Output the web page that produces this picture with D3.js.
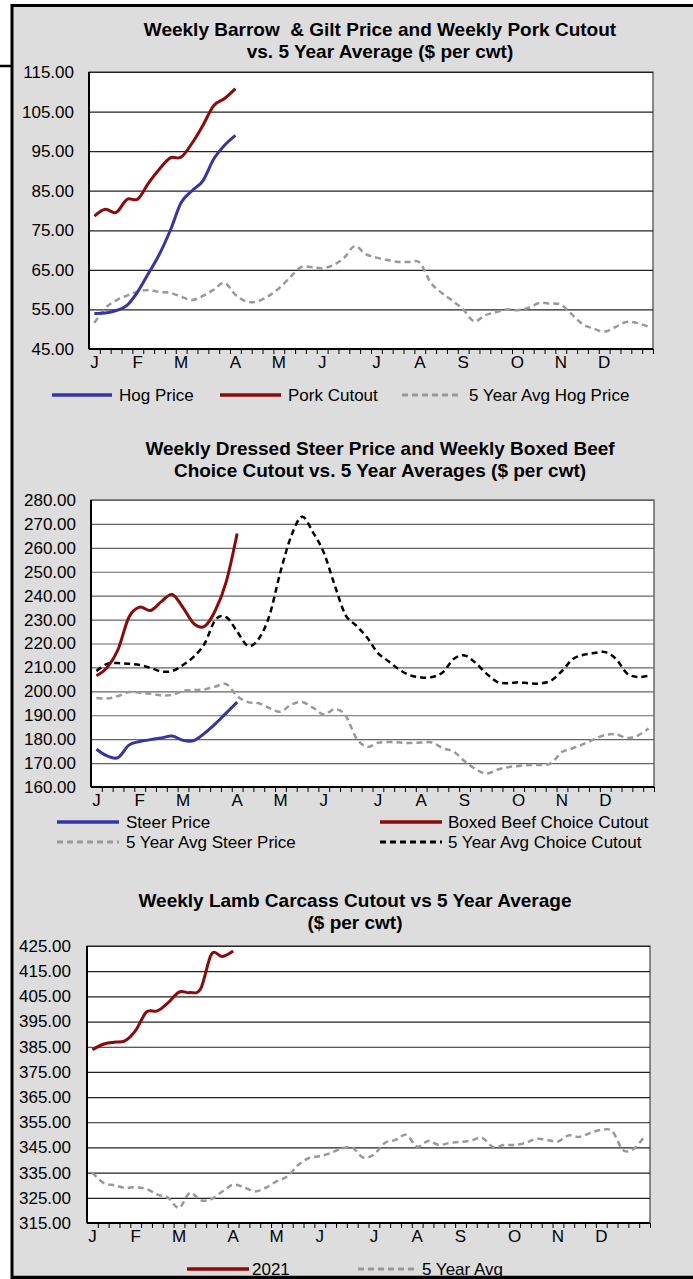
<!DOCTYPE html>
<html>
<head>
<meta charset="utf-8">
<script src="https://cdn.jsdelivr.net/npm/d3@7/dist/d3.min.js"></script>
<style>
body { margin: 0; background: #fff; }
svg text { font-family: "Liberation Sans", Arial, sans-serif; fill: #000; }
</style>
</head>
<body>
<div id="main"></div>
<script>
// month labels sit on these week numbers
var monthLabels = ["J", "F", "M", "A", "M", "J", "J", "A", "S", "O", "N", "D"];
var monthWeeks = [1, 5, 9, 14, 18, 22, 27, 31, 35, 40, 44, 48];
var weeks = d3.range(1, 53);

// chart 1 - hogs ($ per cwt)
var hogPrice = [54.0, 54.1, 54.7, 56.0, 59.5, 64.2, 69.0, 75.0, 82.0, 85.0, 87.5, 93.0, 96.5, 99.0];
var porkCutout = [78.6, 80.3, 79.5, 82.8, 82.9, 87.0, 90.5, 93.3, 93.5, 97.0, 101.5, 106.5, 108.3, 110.8];
var hogAvg = [51.6, 55.3, 57.3, 58.5, 59.5, 59.9, 59.4, 59.2, 58.2, 57.4, 58.4, 60.0, 61.7, 58.7,
  57.0, 57.0, 58.3, 60.3, 63.0, 65.6, 65.7, 65.4, 66.2, 68.0, 71.0, 69.0, 68.1, 67.5, 67.0, 67.0,
  66.8, 61.8, 59.2, 57.2, 55.0, 52.0, 53.5, 54.3, 55.0, 54.8, 55.4, 56.6, 56.5, 56.2, 53.8, 51.3,
  50.2, 49.4, 50.5, 51.8, 51.6, 50.7];
var hogTicks = [45, 55, 65, 75, 85, 95, 105, 115];

// chart 2 - cattle
var steerPrice = [175.8, 173.0, 172.3, 177.5, 179.0, 179.8, 180.5, 181.3, 179.5, 179.4, 182.5, 186.5, 191.0, 195.5];
var boxedBeef = [206.5, 210.0, 217.5, 231.0, 235.2, 233.8, 237.5, 240.5, 235.0, 228.3, 227.2, 234.0, 246.0, 266.0];
var steerAvg = [197.2, 197.0, 198.0, 199.7, 199.4, 199.0, 198.3, 198.5, 200.2, 200.5, 200.8, 202.0, 203.0, 198.0,
  195.5, 195.0, 193.0, 191.5, 194.5, 195.5, 193.2, 190.3, 192.5, 190.0, 180.5, 176.8, 178.5, 178.8, 178.6, 178.4,
  178.6, 178.6, 176.2, 174.8, 170.8, 167.5, 165.6, 167.2, 168.3, 168.8, 169.2, 169.2, 170.0, 174.6, 176.2, 178.0,
  180.0, 181.8, 182.0, 180.5, 181.5, 184.5];
var choiceAvg = [208.5, 211.5, 211.8, 211.5, 211.0, 209.8, 208.3, 208.5, 211.0, 214.5, 220.0, 230.0, 231.0, 225.0,
  219.0, 222.0, 232.0, 250.0, 265.0, 273.0, 266.5, 258.0, 244.5, 232.0, 227.5, 222.5, 216.0, 212.5, 209.0, 206.7,
  205.8, 206.0, 208.0, 213.5, 215.0, 212.0, 207.5, 204.0, 203.4, 203.8, 203.3, 203.3, 204.5, 208.5, 213.5, 215.3,
  216.0, 216.4, 213.5, 207.5, 206.0, 206.5];
var cattleTicks = [160, 170, 180, 190, 200, 210, 220, 230, 240, 250, 260, 270, 280];

// chart 3 - lamb
var lamb2021 = [383.8, 386.0, 386.8, 387.3, 391.5, 398.8, 399.2, 402.5, 406.7, 406.5, 408.0, 421.8, 420.8, 423.0];
var lambAvg = [335.0, 331.0, 330.0, 329.0, 329.2, 328.5, 326.3, 325.0, 321.0, 327.0, 324.0, 324.5, 327.5, 330.2,
  329.2, 327.5, 329.0, 331.5, 333.5, 338.0, 340.8, 341.5, 342.8, 344.5, 345.0, 341.0, 342.2, 346.8, 348.0, 350.0,
  345.3, 347.6, 346.0, 346.8, 347.2, 347.8, 348.8, 345.2, 346.0, 346.0, 346.8, 348.4, 348.0, 347.4, 349.8, 349.2,
  350.8, 352.0, 351.5, 344.0, 344.5, 349.5];
var lambTicks = [315, 325, 335, 345, 355, 365, 375, 385, 395, 405, 415, 425];

var blue = "#3535a5", red = "#8b0a0a", gray = "#999999", black = "#000000";

var svg = d3.select("#main").append("svg")
  .attr("width", 693)
  .attr("height", 1279);

// gray panel with black frame
svg.append("rect").attr("x", 12).attr("y", 5).attr("width", 681).attr("height", 1271).attr("fill", "#dddddd");
svg.append("line").attr("x1", 12).attr("x2", 12).attr("y1", 4).attr("y2", 1279).attr("stroke", "#000").attr("stroke-width", 3);
svg.append("line").attr("x1", 11).attr("x2", 693).attr("y1", 5.5).attr("y2", 5.5).attr("stroke", "#000").attr("stroke-width", 3);
svg.append("line").attr("x1", 0).attr("x2", 13).attr("y1", 66).attr("y2", 66).attr("stroke", "#000").attr("stroke-width", 2.5);

function drawChart(cfg) {
  var g = svg.append("g");

  var x = d3.scaleBand().domain(weeks).range([cfg.left, cfg.right]);
  var xPos = function(w) { return x(w) + x.bandwidth() / 2; };
  var xTick = d3.scaleLinear().domain([0, 52]).range([cfg.left, cfg.right]);
  var y = d3.scaleLinear().domain(cfg.yDomain).range([cfg.bottom, cfg.top]);

  // title
  cfg.title.forEach(function(t, i) {
    g.append("text")
      .attr("x", cfg.titleX)
      .attr("y", cfg.titleY[i])
      .attr("text-anchor", "middle")
      .attr("font-size", "19px")
      .attr("font-weight", "bold")
      .attr("xml:space", "preserve")
      .text(t);
  });

  // plot area
  g.append("rect")
    .attr("x", cfg.left).attr("y", cfg.top)
    .attr("width", cfg.right - cfg.left).attr("height", cfg.bottom - cfg.top)
    .attr("fill", "#fff").attr("stroke", "#444").attr("stroke-width", 1.2);

  // gridlines
  var grid = g.append("g")
    .attr("transform", "translate(" + cfg.left + ",0)")
    .call(d3.axisLeft(y).tickValues(cfg.yTicks).tickSize(-(cfg.right - cfg.left)).tickFormat(""));
  grid.select(".domain").remove();
  grid.selectAll(".tick line").attr("stroke", cfg.gridColor).attr("stroke-width", 1.2);

  // y labels
  var yAx = g.append("g")
    .attr("transform", "translate(" + cfg.left + ",0)")
    .call(d3.axisLeft(y).tickValues(cfg.yTicks).tickSize(0).tickPadding(cfg.labelPad).tickFormat(d3.format(".2f")));
  yAx.select(".domain").remove();
  yAx.selectAll("text").attr("font-size", "17px").attr("font-family", "Liberation Sans, Arial, sans-serif");

  // weekly tick marks
  var tk = g.append("g")
    .attr("transform", "translate(0," + cfg.bottom + ")")
    .call(d3.axisBottom(xTick).tickValues(d3.range(1, 53)).tickSize(5).tickFormat(""));
  tk.select(".domain").remove();
  tk.selectAll(".tick line").attr("stroke", "#000").attr("stroke-width", 1);

  // month labels
  var mAx = g.append("g")
    .attr("transform", "translate(0," + cfg.bottom + ")")
    .call(d3.axisBottom(x).tickValues(monthWeeks).tickSize(0).tickPadding(7)
      .tickFormat(function(d, i) { return monthLabels[i]; }));
  mAx.select(".domain").remove();
  mAx.selectAll("text").attr("font-size", "17px").attr("font-family", "Liberation Sans, Arial, sans-serif");

  // axis lines
  g.append("line").attr("x1", cfg.left).attr("x2", cfg.left).attr("y1", cfg.top).attr("y2", cfg.bottom)
    .attr("stroke", "#000").attr("stroke-width", 2);
  g.append("line").attr("x1", cfg.left).attr("x2", cfg.right).attr("y1", cfg.bottom).attr("y2", cfg.bottom)
    .attr("stroke", "#000").attr("stroke-width", 2);

  var line = d3.line()
    .x(function(d, i) { return xPos(i + 1); })
    .y(function(d) { return y(d); })
    .curve(d3.curveCardinal.tension(0));

  cfg.series.forEach(function(s) {
    g.append("path")
      .datum(s.values)
      .attr("fill", "none")
      .attr("stroke", s.color)
      .attr("stroke-width", s.width)
      .attr("stroke-dasharray", s.dash || null)
      .attr("d", line);
  });

  // legend
  cfg.legend.forEach(function(l) {
    var s = cfg.series[l.s];
    g.append("line")
      .attr("x1", l.x1).attr("x2", l.x2).attr("y1", l.y).attr("y2", l.y)
      .attr("stroke", s.color).attr("stroke-width", s.dash ? 3 : 3.5)
      .attr("stroke-dasharray", s.dash || null);
    g.append("text")
      .attr("x", l.tx).attr("y", l.y + 6)
      .attr("font-size", "17px")
      .text(l.label);
  });
}

drawChart({
  left: 89, right: 653, top: 72, bottom: 349,
  yDomain: [45, 115], yTicks: hogTicks, gridColor: "#222", labelPad: 15,
  title: ["Weekly Barrow  & Gilt Price and Weekly Pork Cutout", "vs. 5 Year Average ($ per cwt)"],
  titleX: 380, titleY: [36, 58],
  series: [
    { values: hogAvg, color: gray, width: 2.5, dash: "6,4" },
    { values: hogPrice, color: blue, width: 3 },
    { values: porkCutout, color: red, width: 3 }
  ],
  legend: [
    { s: 1, x1: 52, x2: 112, tx: 119, y: 395, label: "Hog Price" },
    { s: 2, x1: 220, x2: 281, tx: 288, y: 395, label: "Pork Cutout" },
    { s: 0, x1: 402, x2: 462, tx: 469, y: 395, label: "5 Year Avg Hog Price" }
  ]
});

drawChart({
  left: 91, right: 654, top: 500, bottom: 787,
  yDomain: [160, 280], yTicks: cattleTicks, gridColor: "#666", labelPad: 15,
  title: ["Weekly Dressed Steer Price and Weekly Boxed Beef", "Choice Cutout vs. 5 Year Averages ($ per cwt)"],
  titleX: 380, titleY: [455, 477],
  series: [
    { values: steerAvg, color: gray, width: 2.5, dash: "6,4" },
    { values: choiceAvg, color: black, width: 2.5, dash: "6,4" },
    { values: steerPrice, color: blue, width: 3 },
    { values: boxedBeef, color: red, width: 3 }
  ],
  legend: [
    { s: 2, x1: 57, x2: 119, tx: 126, y: 822, label: "Steer Price" },
    { s: 3, x1: 380, x2: 442, tx: 448, y: 822, label: "Boxed Beef Choice Cutout" },
    { s: 0, x1: 57, x2: 119, tx: 126, y: 842, label: "5 Year Avg Steer Price" },
    { s: 1, x1: 380, x2: 442, tx: 448, y: 842, label: "5 Year Avg Choice Cutout" }
  ]
});

drawChart({
  left: 87, right: 650, top: 946, bottom: 1223,
  yDomain: [315, 425], yTicks: lambTicks, gridColor: "#222", labelPad: 16,
  title: ["Weekly Lamb Carcass Cutout vs 5 Year Average", "($ per cwt)"],
  titleX: 355, titleY: [907, 929],
  series: [
    { values: lambAvg, color: gray, width: 2.5, dash: "6,4" },
    { values: lamb2021, color: red, width: 3 }
  ],
  legend: [
    { s: 1, x1: 187, x2: 249, tx: 252, y: 1269, label: "2021" },
    { s: 0, x1: 358, x2: 418, tx: 422, y: 1269, label: "5 Year Avg" }
  ]
});

// bottom frame line drawn last, it clips the last legend a little
svg.append("line").attr("x1", 11).attr("x2", 693).attr("y1", 1277.5).attr("y2", 1277.5).attr("stroke", "#000").attr("stroke-width", 3.5);
</script>
</body>
</html>
